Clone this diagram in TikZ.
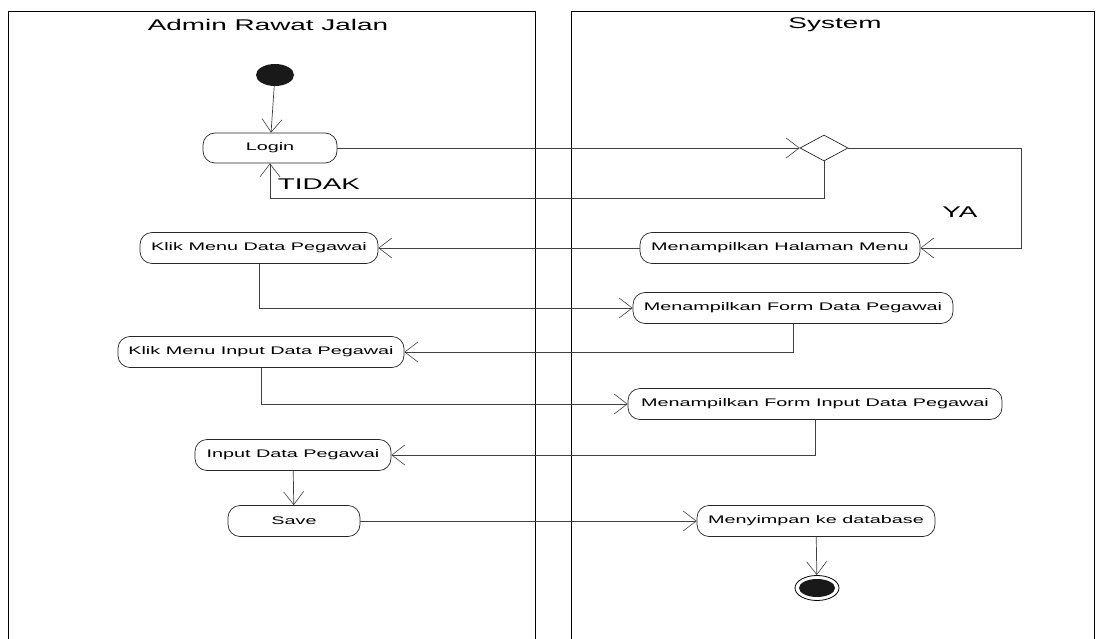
\documentclass[tikz,border=0pt]{standalone}
\usepackage{fontspec}
\newfontfamily\umlfont[FakeStretch=1.8]{Liberation Sans}
\usepackage{tikz}
\usetikzlibrary{arrows.meta,calc,positioning,shapes.geometric}

\tikzset{
  lane/.style={draw=black, line width=0.9pt},
  activity/.style={draw=black!85, line width=0.7pt, rectangle, rounded corners=12pt,
    minimum height=31pt, inner sep=0pt, font={\umlfont\fontsize{11}{13}\selectfont}},
  flow/.style={draw=black!75, line width=0.7pt,
    -{Straight Barb[length=13pt,width=20pt,line width=0.6pt]}},
  lanetitle/.style={font={\umlfont\fontsize{15.5}{18}\selectfont}},
  guard/.style={font={\umlfont\fontsize{15.5}{18}\selectfont}}
}

\begin{document}
\begin{tikzpicture}[x=1pt,y=-1pt]
\useasboundingbox (0,0) rectangle (1101,639);

\draw[lane] (8,639) -- (8,11) -- (535,11) -- (535,639);
\draw[lane] (571,639) -- (571,11) -- (1094,11) -- (1094,639);

\node[lanetitle] (admin) at (268,25) {Admin Rawat Jalan};
\node[lanetitle] (system) at (835,25) {System};

\node[ellipse, fill=black!90, minimum width=38pt, minimum height=22pt, inner sep=0pt] (start) at (275,75) {};

\node[activity, minimum width=134pt, minimum height=30pt] (login) at (270,148) {Login};
\node[diamond, draw=black!85, line width=0.7pt, minimum width=48pt, minimum height=26pt, inner sep=0pt] (cek) at (824,148) {};
\node[activity, minimum width=280pt] (halaman) at (780,248) {Menampilkan Halaman Menu};
\node[activity, minimum width=238pt] (klikmenu) at (259,248) {Klik Menu Data Pegawai};
\node[activity, minimum width=320pt] (formdata) at (793,308) {Menampilkan Form Data Pegawai};
\node[activity, minimum width=286pt] (klikinput) at (261,352) {Klik Menu Input Data Pegawai};
\node[activity, minimum width=374pt] (forminput) at (815,404) {Menampilkan Form Input Data Pegawai};
\node[activity, minimum width=196pt] (inputdata) at (293,455) {Input Data Pegawai};
\node[activity, minimum width=132pt] (save) at (294,521) {Save};
\node[activity, minimum width=238pt] (simpan) at (816,521) {Menyimpan ke database};

\node[ellipse, draw=black, line width=0.8pt, fill=white, minimum width=44pt, minimum height=25pt, inner sep=0pt] (finish) at (817,588) {};
\node[ellipse, fill=black!90, minimum width=36pt, minimum height=18pt, inner sep=0pt] (finishdot) at (817,588) {};

\coordinate (yaturn) at (1021,148);

\draw[flow] (start) -- (login);
\draw[flow] (login.east) -- (cek.west);
\draw[flow] (cek.south) -- ++(0,37) -| (login.south);
\node[guard] (tidak) at (319,184) {TIDAK};
\draw[flow] (cek.east) -- (yaturn) |- (halaman.east);
\node[guard] (ya) at (960,212) {YA};
\draw[flow] (halaman.west) -- (klikmenu.east);
\draw[flow] (klikmenu.south) |- (formdata.west);
\draw[flow] (formdata.south) |- (klikinput.east);
\draw[flow] (klikinput.south) |- (forminput.west);
\draw[flow] (forminput.south) |- (inputdata.east);
\draw[flow] (inputdata) -- (save);
\draw[flow] (save.east) -- (simpan.west);
\draw[flow] (simpan) -- (finish);

\end{tikzpicture}
\end{document}
